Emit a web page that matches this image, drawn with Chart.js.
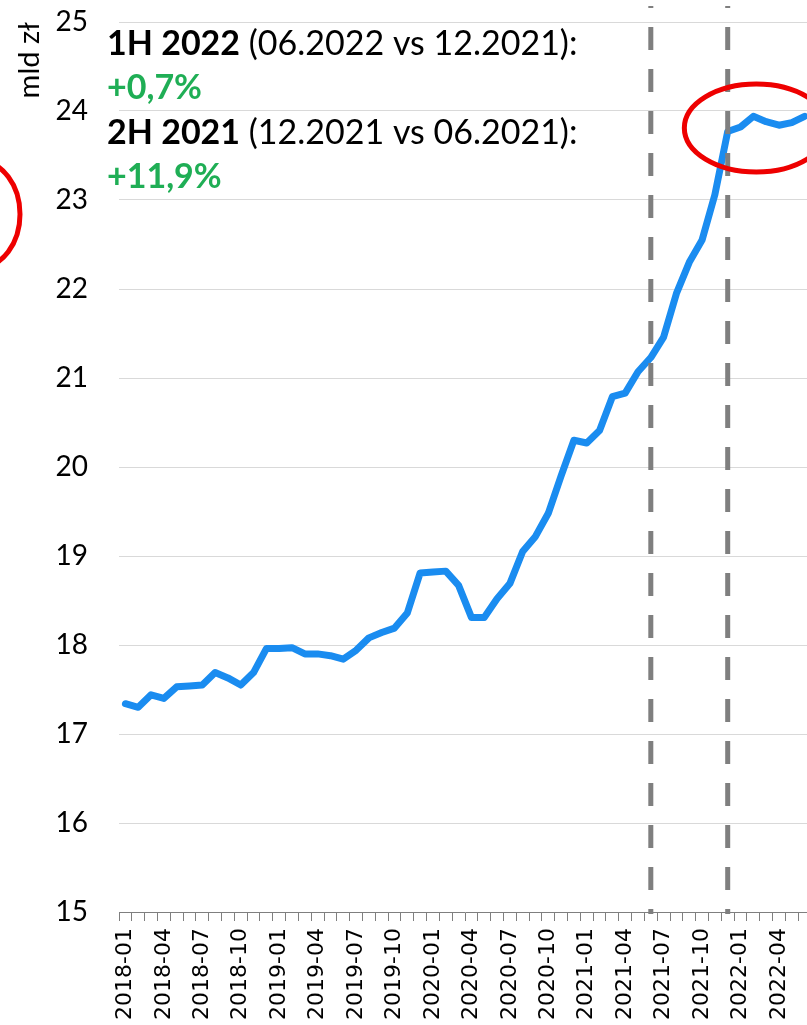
<!DOCTYPE html>
<html>
<head>
<meta charset="utf-8">
<script src="https://cdn.jsdelivr.net/npm/chart.js@4.4.0/dist/chart.umd.min.js"></script>
<style>
  html, body { margin: 0; padding: 0; background: #fff; overflow: hidden; }
  #wrap { position: relative; width: 811px; height: 1025px; }
</style>
</head>
<body>
<div id="wrap"><canvas id="chart"></canvas></div>
<script>
// monthly values, mld zł
const months = [
  '2018-01', '2018-02', '2018-03', '2018-04', '2018-05', '2018-06', '2018-07', '2018-08', '2018-09', '2018-10', '2018-11', '2018-12',
  '2019-01', '2019-02', '2019-03', '2019-04', '2019-05', '2019-06', '2019-07', '2019-08', '2019-09', '2019-10', '2019-11', '2019-12',
  '2020-01', '2020-02', '2020-03', '2020-04', '2020-05', '2020-06', '2020-07', '2020-08', '2020-09', '2020-10', '2020-11', '2020-12',
  '2021-01', '2021-02', '2021-03', '2021-04', '2021-05', '2021-06', '2021-07', '2021-08', '2021-09', '2021-10', '2021-11', '2021-12',
  '2022-01', '2022-02', '2022-03', '2022-04', '2022-05', '2022-06'
];
const values = [
  17.34, 17.30, 17.44, 17.40, 17.53, 17.54, 17.55, 17.69, 17.63, 17.55, 17.69, 17.96,
  17.96, 17.97, 17.90, 17.90, 17.88, 17.84, 17.94, 18.08, 18.14, 18.19, 18.36, 18.81,
  18.82, 18.83, 18.67, 18.31, 18.31, 18.52, 18.69, 19.05, 19.22, 19.48, 19.90, 20.30,
  20.27, 20.41, 20.79, 20.83, 21.07, 21.23, 21.46, 21.95, 22.30, 22.55, 23.06, 23.77,
  23.82, 23.94, 23.88, 23.84, 23.87, 23.94
];
const markerMonths = ['2021-06', '2021-12'];
const noteHeads = ['1H 2022', '2H 2021'];
const noteRanges = [' (06.2022 vs 12.2021):', ' (12.2021 vs 06.2021):'];
const noteChanges = ['+0,7%', '+11,9%'];

// dashed period markers, notes and the red circles
const overlay = {
  id: 'overlay',
  afterDatasetsDraw(chart) {
    const { ctx, chartArea, scales: { x } } = chart;
    ctx.save();
    ctx.strokeStyle = '#7f7f7f';
    ctx.lineWidth = 5;
    ctx.setLineDash([23, 19]);
    ctx.lineDashOffset = 18;
    markerMonths.forEach(m => {
      const px = x.getPixelForValue(months.indexOf(m));
      ctx.beginPath();
      ctx.moveTo(px, chartArea.bottom + 2);
      ctx.lineTo(px, 6);
      ctx.stroke();
    });
    ctx.restore();
  },
  afterDraw(chart) {
    const { ctx, chartArea, scales: { x, y } } = chart;
    ctx.save();
    const left = chartArea.left - 12;
    const top = chartArea.top;
    ctx.textBaseline = 'alphabetic';
    ctx.textAlign = 'left';
    noteHeads.forEach((head, i) => {
      const base = top + 33 + i * 89;
      ctx.fillStyle = '#000';
      ctx.font = 'bold 34px Lato';
      ctx.fillText(head, left, base);
      const w = ctx.measureText(head).width;
      ctx.font = '34px Lato';
      ctx.fillText(noteRanges[i], left + w, base);
      ctx.fillStyle = '#1fae55';
      ctx.font = 'bold 34px Lato';
      ctx.fillText(noteChanges[i], left, base + 44);
    });

    ctx.strokeStyle = '#ee0000';
    ctx.lineWidth = 5;
    ctx.beginPath();
    ctx.ellipse(x.getPixelForValue(49) + 3, y.getPixelForValue(23.81), 72, 44, 0, 0, Math.PI * 2);
    ctx.stroke();
    ctx.beginPath();
    ctx.ellipse(-20, y.getPixelForValue(22.84), 40, 53, 0, 0, Math.PI * 2);
    ctx.stroke();
    ctx.restore();
  }
};

new Chart(document.getElementById('chart'), {
  type: 'line',
  data: {
    labels: months,
    datasets: [{
      data: values,
      borderColor: '#1a8cf0',
      borderWidth: 7,
      pointRadius: 0,
      tension: 0,
      borderJoinStyle: 'round',
      borderCapStyle: 'round'
    }]
  },
  options: {
    responsive: true,
    maintainAspectRatio: false,
    animation: false,
    devicePixelRatio: 1,
    layout: { padding: { top: 22, left: 0, right: 0, bottom: 0 } },
    plugins: { legend: { display: false }, tooltip: { enabled: false } },
    scales: {
      x: {
        offset: true,
        grid: { offset: true, drawOnChartArea: false, drawTicks: true, tickLength: 9, color: '#7f7f7f' },
        border: { display: true, color: '#7f7f7f', width: 1 },
        ticks: {
          autoSkip: false,
          minRotation: 90,
          maxRotation: 90,
          padding: 7,
          color: '#000',
          font: { family: "'DejaVu Sans'", size: 22 },
          callback: (v, i) => (i % 3 === 0 ? months[i] : '')
        },
        afterFit: s => { s.height = 113; s.paddingLeft = 0; s.paddingRight = 0; }
      },
      y: {
        min: 15,
        max: 25,
        grid: {
          drawTicks: false,
          color: c => (c.tick && c.tick.value === 15 ? 'rgba(0,0,0,0)' : '#d9d9d9')
        },
        border: { display: false },
        ticks: { stepSize: 1, padding: 31, color: '#000', font: { family: 'Lato', size: 28 } },
        title: {
          display: true,
          text: 'mld zł',
          align: 'end',
          color: '#000',
          font: { family: 'Lato', size: 29 },
          padding: { top: 12, bottom: 0 }
        },
        afterFit: s => { s.width = 119; s.paddingTop = 0; s.paddingBottom = 0; }
      }
    }
  },
  plugins: [overlay]
});
</script>
</body>
</html>
